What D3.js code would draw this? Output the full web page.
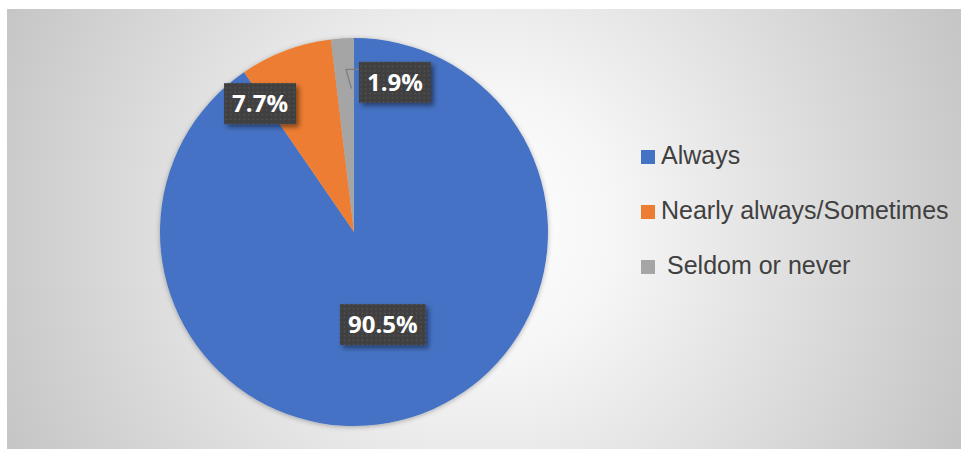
<!DOCTYPE html>
<html>
<head>
<meta charset="utf-8">
<script src="https://cdn.jsdelivr.net/npm/d3@7"></script>
<style>
  html, body { margin: 0; padding: 0; background: #c6c6c6; overflow: hidden; }
  svg { display: block; }
</style>
</head>
<body>
<svg id="chart" width="961" height="449"></svg>
<script>
// ---- data ----
const categories = ["Always", "Nearly always/Sometimes", "Seldom or never"];
const values = [90.5, 7.7, 1.9];
const valueLabels = ["90.5%", "7.7%", "1.9%"];
const colors = ["#4472c4", "#ed7d31", "#a5a5a5"];

// ---- layout (positions kept separate from data) ----
const W = 961, H = 449;
const cx = 354, cy = 232, R = 194;
// label placement: angle (deg, clockwise from 12 o'clock; null = slice middle), radius factor
const labelPlacement = [
  { angle: null, rf: 0.5 },
  { angle: 323.8, rf: 0.82 },
  { angle: 15.3, rf: 0.80 }
];

const svg = d3.select("#chart");
const defs = svg.append("defs");

// background radial gradient
const rg = defs.append("radialGradient").attr("id", "bg")
  .attr("gradientUnits", "userSpaceOnUse")
  .attr("cx", 480).attr("cy", 225).attr("r", 540);
rg.append("stop").attr("offset", "0%").attr("stop-color", "#ffffff");
rg.append("stop").attr("offset", "25%").attr("stop-color", "#f6f6f6");
rg.append("stop").attr("offset", "100%").attr("stop-color", "#c3c3c3");

// dotted dark pattern for label boxes
const pat = defs.append("pattern").attr("id", "dots")
  .attr("patternUnits", "userSpaceOnUse").attr("width", 4.5).attr("height", 4.5);
pat.append("rect").attr("width", 4.5).attr("height", 4.5).attr("fill", "#3f3f3f");
pat.append("rect").attr("x", 1.5).attr("y", 1.5).attr("width", 1.4).attr("height", 1.4).attr("fill", "#5a5a5a");

// shadows
const f1 = defs.append("filter").attr("id", "pieShadow")
  .attr("x", "-10%").attr("y", "-10%").attr("width", "120%").attr("height", "120%");
f1.append("feDropShadow").attr("dx", 0).attr("dy", 1).attr("stdDeviation", 2.5)
  .attr("flood-color", "#000").attr("flood-opacity", 0.3);
const f2 = defs.append("filter").attr("id", "boxShadow")
  .attr("x", "-20%").attr("y", "-20%").attr("width", "150%").attr("height", "160%");
f2.append("feDropShadow").attr("dx", 3).attr("dy", 3).attr("stdDeviation", 2.5)
  .attr("flood-color", "#000").attr("flood-opacity", 0.45);

// background panel
svg.append("rect").attr("x", 0).attr("y", 0).attr("width", W).attr("height", H).attr("fill", "#ffffff");
svg.append("rect").attr("x", 7).attr("y", 9).attr("width", W - 7).attr("height", H - 9)
  .attr("fill", "url(#bg)");

// pie
const pie = d3.pie().sort(null).value(d => d)
  .startAngle(0).endAngle(2 * Math.PI);
const arcs = pie(values);
const arc = d3.arc().innerRadius(0).outerRadius(R);

const g = svg.append("g").attr("transform", `translate(${cx},${cy})`);
g.append("g").attr("filter", "url(#pieShadow)")
  .selectAll("path").data(arcs).join("path")
  .attr("d", arc)
  .attr("fill", (d, i) => colors[i]);

// label positions
function labelPos(d, i) {
  const p = labelPlacement[i];
  const a = p.angle === null ? (d.startAngle + d.endAngle) / 2 : p.angle * Math.PI / 180;
  const r = R * p.rf;
  return [Math.sin(a) * r, -Math.cos(a) * r];
}

const fontSize = 24;
const labels = g.append("g").selectAll("g").data(arcs).join("g")
  .attr("transform", (d, i) => { const [x, y] = labelPos(d, i); return `translate(${x},${y})`; });

labels.each(function(d, i) {
  const sel = d3.select(this);
  const t = sel.append("text")
    .attr("text-anchor", "middle")
    .attr("dy", "0.36em")
    .attr("font-family", "'Open Sans', 'DejaVu Sans', sans-serif")
    .attr("font-weight", 700)
    .attr("font-size", fontSize)
    .attr("fill", "#ffffff")
    .text(valueLabels[i]);
  const bb = t.node().getBBox();
  const padX = 8, h = 41;
  sel.insert("rect", "text")
    .attr("x", bb.x - padX).attr("y", -h / 2)
    .attr("width", bb.width + 2 * padX).attr("height", h)
    .attr("fill", "url(#dots)")
    .attr("filter", "url(#boxShadow)");
  // leader line for the small slice
  if (i === 2) {
    const [lx, ly] = labelPos(d, i);
    const bx = bb.x - padX;              // box left edge (local)
    const ey = -h / 2 + 7.5;             // elbow height (local)
    const a = d.startAngle + (d.endAngle - d.startAngle) * 0.85;
    const tr = R * 0.74;
    const tx = Math.sin(a) * tr - lx, ty = -Math.cos(a) * tr - ly;
    sel.insert("polyline", "rect")
      .attr("points", [[bx + 2, ey], [bx - 13, ey], [tx, ty]].map(p => p.join(",")).join(" "))
      .attr("fill", "none")
      .attr("stroke", "#7f7f7f")
      .attr("stroke-width", 1.3);
  }
});

// legend
const legend = svg.append("g").attr("transform", "translate(641,150)");
const rowH = 55;
const items = legend.selectAll("g").data(categories).join("g")
  .attr("transform", (d, i) => `translate(0,${i * rowH})`);
items.append("rect").attr("x", 0).attr("y", 0).attr("width", 14).attr("height", 14)
  .attr("fill", (d, i) => colors[i]);
items.append("text")
  .attr("x", (d, i) => i === 2 ? 26 : 20)
  .attr("y", 14)
  .attr("font-family", "'Liberation Sans', Arial, sans-serif")
  .attr("font-size", 25)
  .attr("fill", "#404040")
  .text(d => d);
</script>
</body>
</html>
